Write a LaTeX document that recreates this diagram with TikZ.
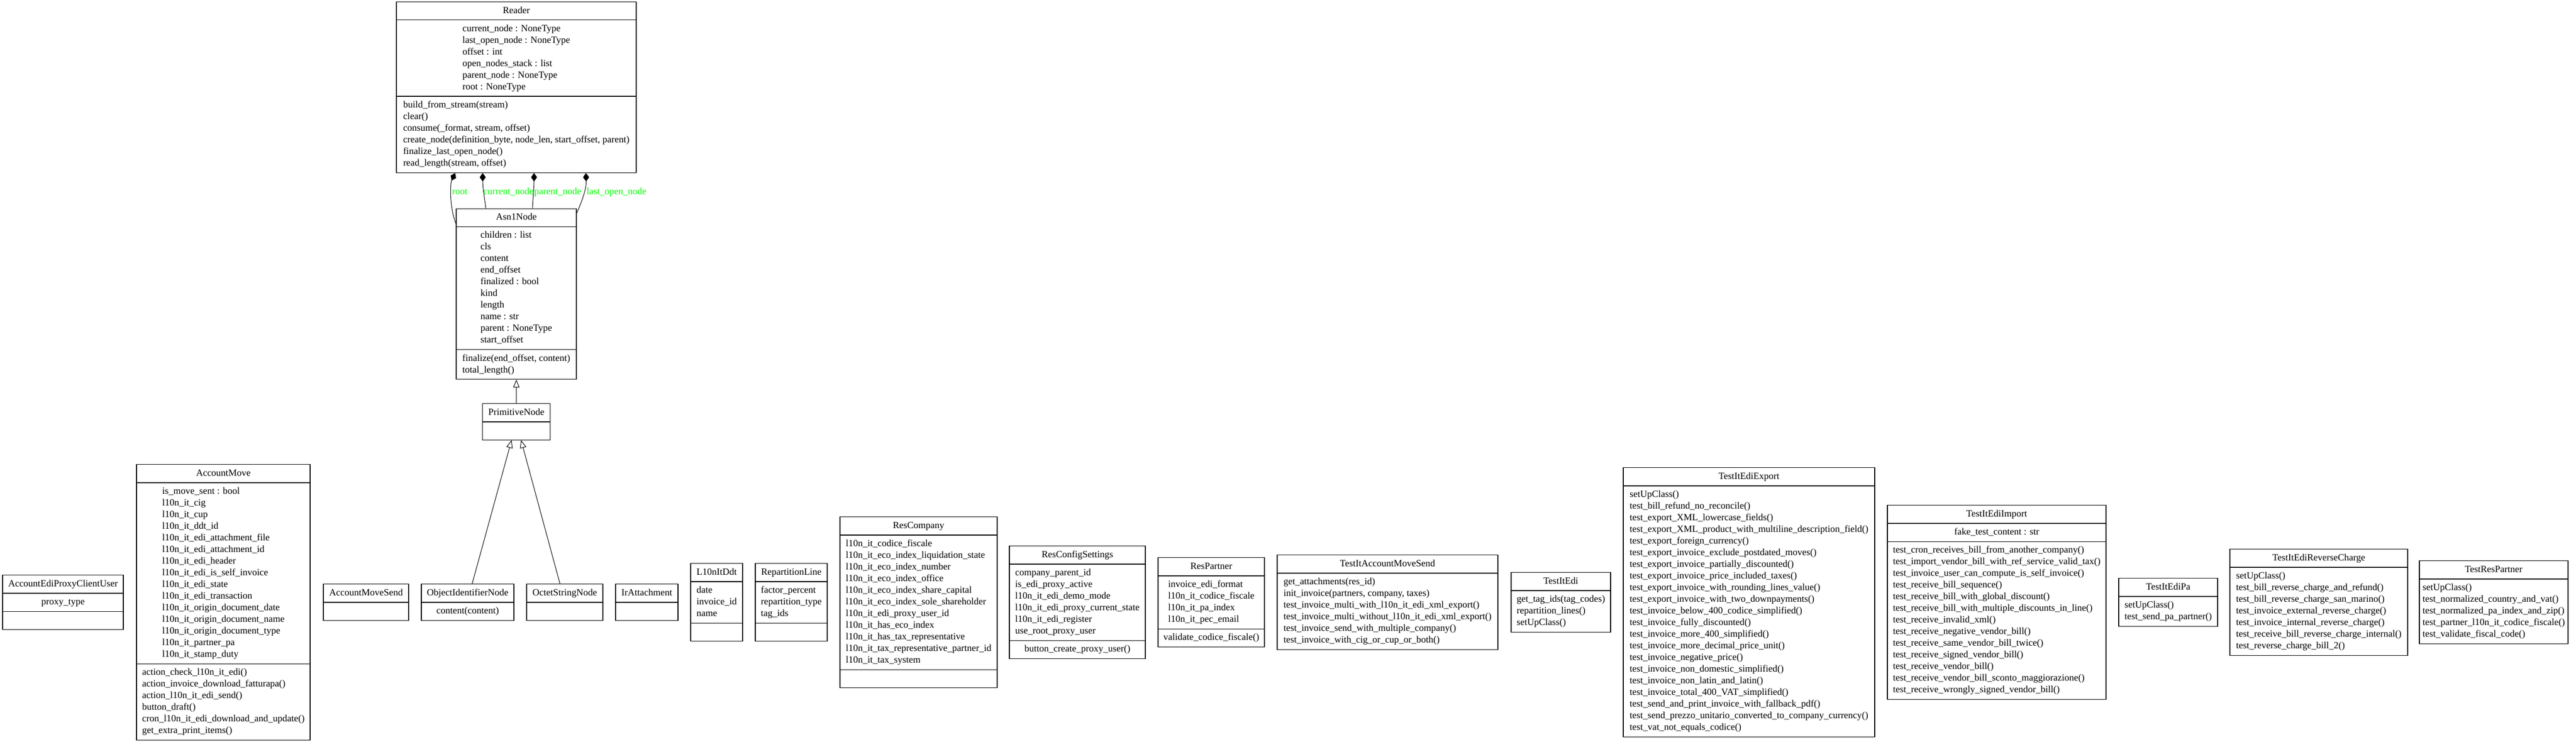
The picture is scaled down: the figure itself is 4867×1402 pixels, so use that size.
\documentclass[tikz,border=0pt]{standalone}
\usepackage{fontspec}
\setmainfont{Liberation Serif}
\usetikzlibrary{shapes.multipart,arrows.meta,calc}
\definecolor{lblgreen}{RGB}{0,255,0}
\newcommand\rows[1]{\begin{tabular}{@{}l@{}}#1\end{tabular}}
\newcommand\emptyrow{\strut\hspace*{0.5pt}}
\tikzset{
  cls/.style={rectangle split, rectangle split parts=3, draw=black, line width=0.9pt, fill=white,
    inner xsep=3pt, inner ysep=4.125pt, font=\fontsize{13.5}{16.5}\selectfont, anchor=center,
    rectangle split empty part height=11.55pt, rectangle split empty part depth=4.95pt},
  clstwo/.style={cls, rectangle split parts=2},
  bw/.style={minimum width=#1*0.75pt},
  comp/.style={{Diamond[length=12pt,width=8.5pt]}-, line width=0.75pt},
  inh/.style={-{Triangle[open,length=11pt,width=9pt]}, line width=0.75pt},
  lbl/.style={text=lblgreen, font=\fontsize{13.5}{16.5}\selectfont, inner sep=0pt, anchor=base west},
}
\begin{document}
\begin{tikzpicture}[x=0.75pt,y=-0.75pt]
\useasboundingbox (0,0) rectangle (4867,1402);

% ---- top hierarchy ----
\node[cls,bw=453] (reader) at (975.5,165) {\strut Reader
 \nodepart{two}\rows{current\_node : NoneType\\last\_open\_node : NoneType\\offset : int\\open\_nodes\_stack : list\\parent\_node : NoneType\\root : NoneType}
 \nodepart{three}\rows{build\_from\_stream(stream)\\clear()\\consume(\_format, stream, offset)\\create\_node(definition\_byte, node\_len, start\_offset, parent)\\finalize\_last\_open\_node()\\read\_length(stream, offset)}};

\node[cls,bw=227] (asn) at (975.5,555.5) {\strut Asn1Node
 \nodepart{two}\rows{children : list\\cls\\content\\end\_offset\\finalized : bool\\kind\\length\\name : str\\parent : NoneType\\start\_offset}
 \nodepart{three}\rows{finalize(end\_offset, content)\\total\_length()}};

\node[clstwo,bw=128] (prim) at (975.5,797) {\strut PrimitiveNode\nodepart{two}\emptyrow};

% ---- bottom rank ----
\node[cls,bw=228] (acu) at (119,1138) {\strut AccountEdiProxyClientUser
 \nodepart{two}\rows{proxy\_type}\nodepart{three}\emptyrow};

\node[cls,bw=328] (am) at (422,1138) {\strut AccountMove
 \nodepart{two}\rows{is\_move\_sent : bool\\l10n\_it\_cig\\l10n\_it\_cup\\l10n\_it\_ddt\_id\\l10n\_it\_edi\_attachment\_file\\l10n\_it\_edi\_attachment\_id\\l10n\_it\_edi\_header\\l10n\_it\_edi\_is\_self\_invoice\\l10n\_it\_edi\_state\\l10n\_it\_edi\_transaction\\l10n\_it\_origin\_document\_date\\l10n\_it\_origin\_document\_name\\l10n\_it\_origin\_document\_type\\l10n\_it\_partner\_pa\\l10n\_it\_stamp\_duty}
 \nodepart{three}\rows{action\_check\_l10n\_it\_edi()\\action\_invoice\_download\_fatturapa()\\action\_l10n\_it\_edi\_send()\\button\_draft()\\cron\_l10n\_it\_edi\_download\_and\_update()\\get\_extra\_print\_items()}};

\node[clstwo,bw=161] (ams) at (691.5,1138) {\strut AccountMoveSend\nodepart{two}\emptyrow};
\node[clstwo,bw=175] (oid) at (883.5,1138) {\strut ObjectIdentifierNode\nodepart{two}\rows{content(content)}};
\node[clstwo,bw=144] (osn) at (1067,1138) {\strut OctetStringNode\nodepart{two}\emptyrow};
\node[clstwo,bw=118] (ira) at (1222,1138) {\strut IrAttachment\nodepart{two}\emptyrow};

\node[cls,bw=98] (ddt) at (1354,1138) {\strut L10nItDdt
 \nodepart{two}\rows{date\\invoice\_id\\name}\nodepart{three}\emptyrow};

\node[cls,bw=136] (rl) at (1495,1138) {\strut RepartitionLine
 \nodepart{two}\rows{factor\_percent\\repartition\_type\\tag\_ids}\nodepart{three}\emptyrow};

\node[cls,bw=297] (rc) at (1735.5,1138) {\strut ResCompany
 \nodepart{two}\rows{l10n\_it\_codice\_fiscale\\l10n\_it\_eco\_index\_liquidation\_state\\l10n\_it\_eco\_index\_number\\l10n\_it\_eco\_index\_office\\l10n\_it\_eco\_index\_share\_capital\\l10n\_it\_eco\_index\_sole\_shareholder\\l10n\_it\_edi\_proxy\_user\_id\\l10n\_it\_has\_eco\_index\\l10n\_it\_has\_tax\_representative\\l10n\_it\_tax\_representative\_partner\_id\\l10n\_it\_tax\_system}
 \nodepart{three}\emptyrow};

\node[cls,bw=257] (rcs) at (2035.5,1138) {\strut ResConfigSettings
 \nodepart{two}\rows{company\_parent\_id\\is\_edi\_proxy\_active\\l10n\_it\_edi\_demo\_mode\\l10n\_it\_edi\_proxy\_current\_state\\l10n\_it\_edi\_register\\use\_root\_proxy\_user}
 \nodepart{three}\rows{button\_create\_proxy\_user()}};

\node[cls,bw=201] (rp) at (2288.5,1138) {\strut ResPartner
 \nodepart{two}\rows{invoice\_edi\_format\\l10n\_it\_codice\_fiscale\\l10n\_it\_pa\_index\\l10n\_it\_pec\_email}
 \nodepart{three}\rows{validate\_codice\_fiscale()}};

\node[clstwo,bw=417] (tams) at (2621.5,1138) {\strut TestItAccountMoveSend
 \nodepart{two}\rows{get\_attachments(res\_id)\\init\_invoice(partners, company, taxes)\\test\_invoice\_multi\_with\_l10n\_it\_edi\_xml\_export()\\test\_invoice\_multi\_without\_l10n\_it\_edi\_xml\_export()\\test\_invoice\_send\_with\_multiple\_company()\\test\_invoice\_with\_cig\_or\_cup\_or\_both()}};

\node[clstwo,bw=188] (tie) at (2949,1138) {\strut TestItEdi
 \nodepart{two}\rows{get\_tag\_ids(tag\_codes)\\repartition\_lines()\\setUpClass()}};

\node[clstwo,bw=475] (tiex) at (3304.5,1138) {\strut TestItEdiExport
 \nodepart{two}\rows{setUpClass()\\test\_bill\_refund\_no\_reconcile()\\test\_export\_XML\_lowercase\_fields()\\test\_export\_XML\_product\_with\_multiline\_description\_field()\\test\_export\_foreign\_currency()\\test\_export\_invoice\_exclude\_postdated\_moves()\\test\_export\_invoice\_partially\_discounted()\\test\_export\_invoice\_price\_included\_taxes()\\test\_export\_invoice\_with\_rounding\_lines\_value()\\test\_export\_invoice\_with\_two\_downpayments()\\test\_invoice\_below\_400\_codice\_simplified()\\test\_invoice\_fully\_discounted()\\test\_invoice\_more\_400\_simplified()\\test\_invoice\_more\_decimal\_price\_unit()\\test\_invoice\_negative\_price()\\test\_invoice\_non\_domestic\_simplified()\\test\_invoice\_non\_latin\_and\_latin()\\test\_invoice\_total\_400\_VAT\_simplified()\\test\_send\_and\_print\_invoice\_with\_fallback\_pdf()\\test\_send\_prezzo\_unitario\_converted\_to\_company\_currency()\\test\_vat\_not\_equals\_codice()}};

\node[cls,bw=413] (tiim) at (3772.5,1138) {\strut TestItEdiImport
 \nodepart{two}\rows{fake\_test\_content : str}
 \nodepart{three}\rows{test\_cron\_receives\_bill\_from\_another\_company()\\test\_import\_vendor\_bill\_with\_ref\_service\_valid\_tax()\\test\_invoice\_user\_can\_compute\_is\_self\_invoice()\\test\_receive\_bill\_sequence()\\test\_receive\_bill\_with\_global\_discount()\\test\_receive\_bill\_with\_multiple\_discounts\_in\_line()\\test\_receive\_invalid\_xml()\\test\_receive\_negative\_vendor\_bill()\\test\_receive\_same\_vendor\_bill\_twice()\\test\_receive\_signed\_vendor\_bill()\\test\_receive\_vendor\_bill()\\test\_receive\_vendor\_bill\_sconto\_maggiorazione()\\test\_receive\_wrongly\_signed\_vendor\_bill()}};

\node[clstwo,bw=187] (tipa) at (4096.5,1138) {\strut TestItEdiPa
 \nodepart{two}\rows{setUpClass()\\test\_send\_pa\_partner()}};

\node[clstwo,bw=336] (tirc) at (4381,1138) {\strut TestItEdiReverseCharge
 \nodepart{two}\rows{setUpClass()\\test\_bill\_reverse\_charge\_and\_refund()\\test\_bill\_reverse\_charge\_san\_marino()\\test\_invoice\_external\_reverse\_charge()\\test\_invoice\_internal\_reverse\_charge()\\test\_receive\_bill\_reverse\_charge\_internal()\\test\_reverse\_charge\_bill\_2()}};

\node[clstwo,bw=281] (trp) at (4711.5,1138) {\strut TestResPartner
 \nodepart{two}\rows{setUpClass()\\test\_normalized\_country\_and\_vat()\\test\_normalized\_pa\_index\_and\_zip()\\test\_partner\_l10n\_it\_codice\_fiscale()\\test\_validate\_fiscal\_code()}};

% ---- inheritance ----
\draw[inh] (prim.north) -- (asn.south);
\draw[inh] ($(oid.north)+(8.5,0)$) -- ($(prim.south)+(-9,0)$);
\draw[inh] ($(osn.north)+(-9,0)$) -- ($(prim.south)+(9,0)$);

% ---- composition ----
\draw[comp] ($(reader.south)+(-115.5,0)$) .. controls ($(reader.south)+(-125.5,21)$) and ($(asn.north west)+(-12,-1)$) .. ($(asn.north west)+(0,29)$);
\draw[comp] ($(reader.south)+(-63.5,0)$) .. controls ($(reader.south)+(-63.5,26)$) and ($(asn.north)+(-60.5,-21)$) .. ($(asn.north)+(-57.5,0)$);
\draw[comp] ($(reader.south)+(33.5,0)$) .. controls ($(reader.south)+(33.5,26)$) and ($(asn.north)+(31.5,-21)$) .. ($(asn.north)+(30.5,0)$);
\draw[comp] ($(reader.south)+(131.5,0)$) .. controls ($(reader.south)+(132.5,31)$) and ($(asn.north east)+(9,-11)$) .. ($(asn.north east)+(0,9)$);

\node[lbl] (lroot) at (854,367) {root};
\node[lbl] (lcur) at (913,367) {current\_node};
\node[lbl] (lpar) at (1009,367) {parent\_node};
\node[lbl] (llast) at (1108,367) {last\_open\_node};
\end{tikzpicture}
\end{document}
